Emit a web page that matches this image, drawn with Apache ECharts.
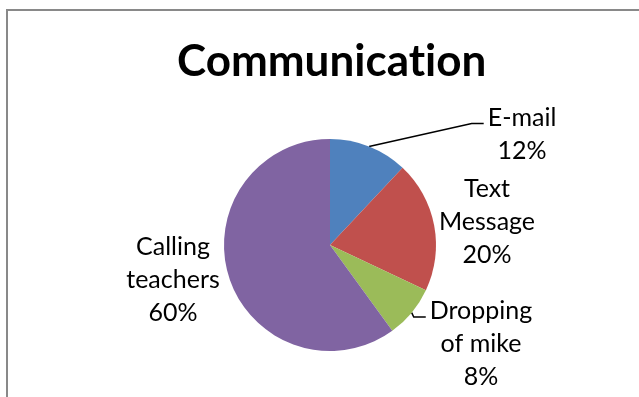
<!DOCTYPE html>
<html>
<head>
<meta charset="utf-8">
<title>Communication</title>
<script src="https://cdn.jsdelivr.net/npm/echarts@6/dist/echarts.min.js"></script>
<style>
  html, body { margin: 0; padding: 0; background: #fff; }
  #chart { width: 639px; height: 397px; }
</style>
</head>
<body>
<div id="chart"></div>
<script>
// Share of each communication channel (percent)
const categories = ['E-mail', 'Text\nMessage', 'Dropping\nof mike', 'Calling\nteachers'];
const shares = [12, 20, 8, 60];
const sliceColors = ['#4F81BD', '#C0504D', '#9BBB59', '#8064A2'];

// Where each label block sits (centre of the block, px) and whether it gets a leader line
const labelSpots = [[522, 134], [487, 222], [481, 344], [173, 280]];
const leaderShown = [true, false, true, false];

const LABEL_FONT = '25px Lato';
const LINE_HEIGHT = 33;

// Width of the first text line of a label, used to end the leader just left of it
const measureCtx = document.createElement('canvas').getContext('2d');
function firstLineWidth(text) {
  measureCtx.font = LABEL_FONT;
  return measureCtx.measureText(text.split('\n')[0]).width;
}

const chart = echarts.init(document.getElementById('chart'), null, { renderer: 'canvas' });

const data = categories.map((name, i) => ({
  name: name,
  value: shares[i],
  itemStyle: { color: sliceColors[i] },
  labelLine: { show: leaderShown[i] }
}));

const titleStyle = { fontFamily: 'Lato', fontWeight: 'bold', fontSize: 44, color: '#000' };

chart.setOption({
  animation: false,
  backgroundColor: '#ffffff',
  title: {
    // two rich-text runs so "t" and "i" are drawn as separate glyphs
    text: '{t|Communicat}{t|ion}',
    left: 172,
    top: 35,
    textStyle: Object.assign({ rich: { t: titleStyle } }, titleStyle)
  },
  graphic: [{
    type: 'rect',
    silent: true,
    shape: { x: 7, y: 10, width: 700, height: 500 },
    style: { fill: 'none', stroke: '#898989', lineWidth: 2 }
  }],
  series: [{
    type: 'pie',
    center: [330, 245],
    radius: 106,
    startAngle: 90,
    clockwise: true,
    avoidLabelOverlap: false,
    data: data,
    label: {
      show: true,
      position: 'outside',
      formatter: '{b}\n{c}%',
      fontFamily: 'Lato',
      fontSize: 25,
      lineHeight: LINE_HEIGHT,
      color: '#000',
      align: 'center'
    },
    labelLine: {
      length: 10,
      length2: 10,
      lineStyle: { color: '#000', width: 1.5 }
    },
    labelLayout: function (params) {
      const i = params.dataIndex;
      const p = labelSpots[i];
      const out = { x: p[0], y: p[1], align: 'center', verticalAlign: 'middle' };
      if (leaderShown[i] && params.labelLinePoints) {
        const text = categories[i] + '\n' + shares[i] + '%';
        const lines = text.split('\n').length;
        const firstLineMid = p[1] - (lines - 1) * LINE_HEIGHT / 2;
        const endX = p[0] - firstLineWidth(text) / 2 - 4;
        const endY = firstLineMid + 6;
        const anchor = params.labelLinePoints[0];
        out.labelLinePoints = [anchor, [endX - 12, endY], [endX, endY]];
      }
      return out;
    },
    emphasis: { disabled: true }
  }]
});
</script>
</body>
</html>
